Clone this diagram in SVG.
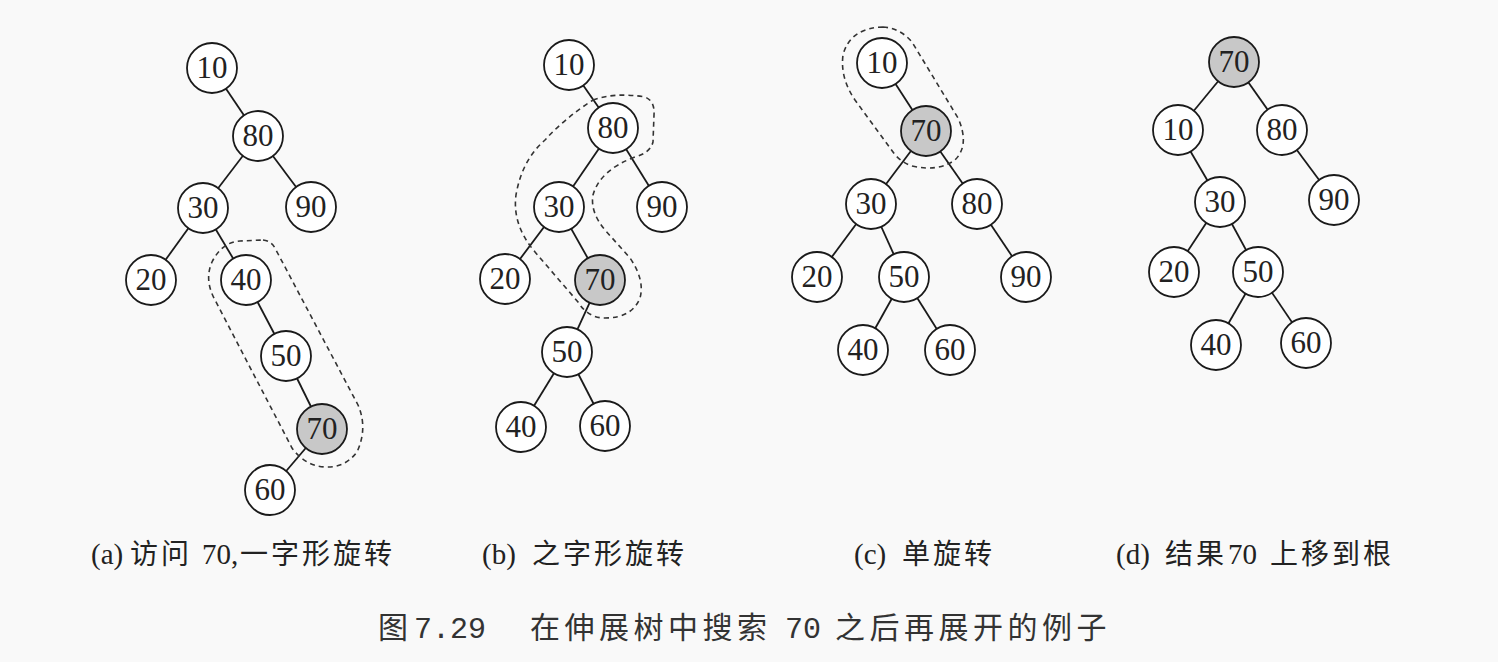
<svg xmlns="http://www.w3.org/2000/svg" width="1498" height="662" viewBox="0 0 1498 662">
<style>
.n circle{fill:#fff;stroke:#1a1a1a;stroke-width:1.8}
.n.h circle{fill:#c8c8c8}
.n text{font-family:"Liberation Serif",serif;font-size:31px;fill:#222;text-anchor:middle}
.e line{stroke:#1a1a1a;stroke-width:1.8}
.d{fill:none;stroke:#333;stroke-width:1.6;stroke-dasharray:5 4}
.cap{font-family:"Liberation Serif","Noto Sans CJK SC",serif;font-size:29px;fill:#222}
.cj{font-family:"Noto Sans CJK SC",sans-serif;font-size:28px;letter-spacing:3px}
.ttl{font-family:"Noto Sans CJK SC",sans-serif;font-size:30px;fill:#333;letter-spacing:4.5px}
.mono{font-family:"Liberation Mono",monospace;letter-spacing:0}
</style>
<rect width="1498" height="662" fill="#f9f9f9"/>
<g id="connectors" class="e">
<line x1="212" y1="68" x2="258" y2="136"/><line x1="258" y1="136" x2="203" y2="208"/><line x1="258" y1="136" x2="311" y2="207"/><line x1="203" y1="208" x2="151" y2="280"/><line x1="203" y1="208" x2="246" y2="280"/><line x1="246" y1="280" x2="286" y2="356"/><line x1="286" y1="356" x2="322" y2="429"/><line x1="322" y1="429" x2="270" y2="490"/>
<line x1="569" y1="65" x2="613" y2="128"/><line x1="613" y1="128" x2="559" y2="207"/><line x1="613" y1="128" x2="662" y2="207"/><line x1="559" y1="207" x2="505" y2="279"/><line x1="559" y1="207" x2="600" y2="280"/><line x1="600" y1="280" x2="567" y2="352"/><line x1="567" y1="352" x2="521" y2="427"/><line x1="567" y1="352" x2="605" y2="426"/>
<line x1="882" y1="63" x2="926" y2="131"/><line x1="926" y1="131" x2="871" y2="204"/><line x1="926" y1="131" x2="977" y2="204"/><line x1="871" y1="204" x2="817" y2="277"/><line x1="871" y1="204" x2="904" y2="277"/><line x1="904" y1="277" x2="863" y2="350"/><line x1="904" y1="277" x2="950" y2="350"/><line x1="977" y1="204" x2="1026" y2="277"/>
<line x1="1234" y1="62" x2="1178" y2="130"/><line x1="1234" y1="62" x2="1282" y2="130"/><line x1="1178" y1="130" x2="1220" y2="202"/><line x1="1282" y1="130" x2="1334" y2="200"/><line x1="1220" y1="202" x2="1174" y2="272"/><line x1="1220" y1="202" x2="1258" y2="272"/><line x1="1258" y1="272" x2="1216" y2="345"/><line x1="1258" y1="272" x2="1306" y2="343"/>
</g>
<g id="outlines">
<path class="d" d="M 263,240 Q 272,241 276,250 L 358,405 Q 368,428 357,452 Q 345,468 325,467 Q 305,466 292,448 L 215,300 Q 204,280 212,262 Q 222,242 240,241 Z"/>
<path class="d" d="M 593,100 Q 615,92 645,97 Q 655,101 654,115 L 653,142 Q 650,153 635,157 Q 600,170 593,195 Q 590,212 605,230 L 630,258 Q 645,280 640,298 Q 632,318 605,318 Q 588,318 578,302 L 535,252 Q 512,225 516,195 Q 522,160 545,140 Q 565,118 593,100 Z"/>
<path class="d" d="M 883,27 Q 900,28 912,42 L 958,118 Q 970,145 955,160 Q 938,172 912,166 Q 900,162 893,152 L 855,100 Q 840,78 843,55 Q 850,28 883,27 Z"/>
</g>
<g id="a10" class="n" transform="translate(212,68)"><circle r="25"/><text y="10">10</text></g>
<g id="a80" class="n" transform="translate(258,136)"><circle r="25"/><text y="10">80</text></g>
<g id="a30" class="n" transform="translate(203,208)"><circle r="25"/><text y="10">30</text></g>
<g id="a90" class="n" transform="translate(311,207)"><circle r="25"/><text y="10">90</text></g>
<g id="a20" class="n" transform="translate(151,280)"><circle r="25"/><text y="10">20</text></g>
<g id="a40" class="n" transform="translate(246,280)"><circle r="25"/><text y="10">40</text></g>
<g id="a50" class="n" transform="translate(286,356)"><circle r="25"/><text y="10">50</text></g>
<g id="a70" class="n h" transform="translate(322,429)"><circle r="25"/><text y="10">70</text></g>
<g id="a60" class="n" transform="translate(270,490)"><circle r="25"/><text y="10">60</text></g>
<g id="b10" class="n" transform="translate(569,65)"><circle r="25"/><text y="10">10</text></g>
<g id="b80" class="n" transform="translate(613,128)"><circle r="25"/><text y="10">80</text></g>
<g id="b30" class="n" transform="translate(559,207)"><circle r="25"/><text y="10">30</text></g>
<g id="b90" class="n" transform="translate(662,207)"><circle r="25"/><text y="10">90</text></g>
<g id="b20" class="n" transform="translate(505,279)"><circle r="25"/><text y="10">20</text></g>
<g id="b70" class="n h" transform="translate(600,280)"><circle r="25"/><text y="10">70</text></g>
<g id="b50" class="n" transform="translate(567,352)"><circle r="25"/><text y="10">50</text></g>
<g id="b40" class="n" transform="translate(521,427)"><circle r="25"/><text y="10">40</text></g>
<g id="b60" class="n" transform="translate(605,426)"><circle r="25"/><text y="10">60</text></g>
<g id="c10" class="n" transform="translate(882,63)"><circle r="25"/><text y="10">10</text></g>
<g id="c70" class="n h" transform="translate(926,131)"><circle r="25"/><text y="10">70</text></g>
<g id="c30" class="n" transform="translate(871,204)"><circle r="25"/><text y="10">30</text></g>
<g id="c80" class="n" transform="translate(977,204)"><circle r="25"/><text y="10">80</text></g>
<g id="c20" class="n" transform="translate(817,277)"><circle r="25"/><text y="10">20</text></g>
<g id="c50" class="n" transform="translate(904,277)"><circle r="25"/><text y="10">50</text></g>
<g id="c90" class="n" transform="translate(1026,277)"><circle r="25"/><text y="10">90</text></g>
<g id="c40" class="n" transform="translate(863,350)"><circle r="25"/><text y="10">40</text></g>
<g id="c60" class="n" transform="translate(950,350)"><circle r="25"/><text y="10">60</text></g>
<g id="d70" class="n h" transform="translate(1234,62)"><circle r="25"/><text y="10">70</text></g>
<g id="d10" class="n" transform="translate(1178,130)"><circle r="25"/><text y="10">10</text></g>
<g id="d80" class="n" transform="translate(1282,130)"><circle r="25"/><text y="10">80</text></g>
<g id="d30" class="n" transform="translate(1220,202)"><circle r="25"/><text y="10">30</text></g>
<g id="d90" class="n" transform="translate(1334,200)"><circle r="25"/><text y="10">90</text></g>
<g id="d20" class="n" transform="translate(1174,272)"><circle r="25"/><text y="10">20</text></g>
<g id="d50" class="n" transform="translate(1258,272)"><circle r="25"/><text y="10">50</text></g>
<g id="d40" class="n" transform="translate(1216,345)"><circle r="25"/><text y="10">40</text></g>
<g id="d60" class="n" transform="translate(1306,343)"><circle r="25"/><text y="10">60</text></g>
<g id="captions">
<text class="cap" y="564"><tspan x="91">(a)</tspan><tspan class="cj" x="130">访问</tspan><tspan x="202">70,</tspan><tspan class="cj" x="240">一字形旋转</tspan></text>
<text class="cap" y="564"><tspan x="482">(b)</tspan><tspan class="cj" x="532">之字形旋转</tspan></text>
<text class="cap" y="564"><tspan x="854">(c)</tspan><tspan class="cj" x="902">单旋转</tspan></text>
<text class="cap" y="564"><tspan x="1116">(d)</tspan><tspan class="cj" x="1165">结果</tspan><tspan x="1228">70</tspan><tspan class="cj" x="1270">上移到根</tspan></text>
<text class="ttl" y="638"><tspan x="378">图</tspan><tspan class="mono" x="414">7.29</tspan><tspan x="530">在伸展树中搜索</tspan><tspan class="mono" x="785">70</tspan><tspan x="835">之后再展开的例子</tspan></text>
</g>
</svg>
